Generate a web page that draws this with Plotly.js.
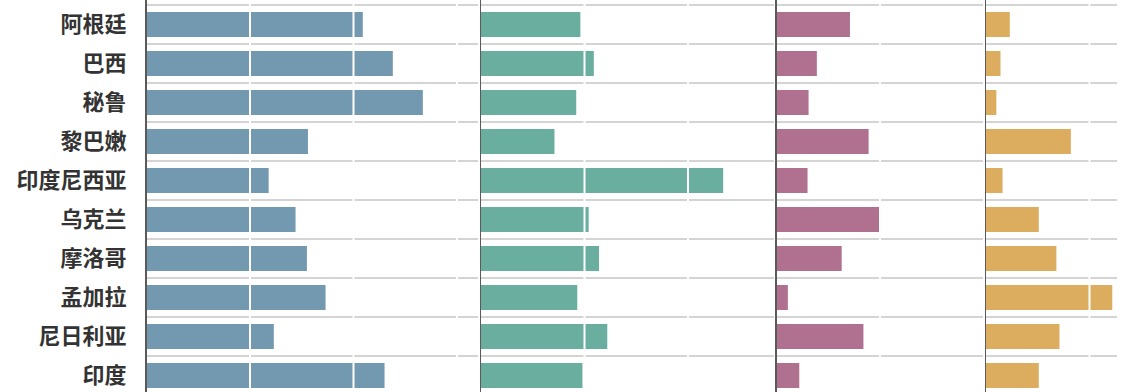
<!DOCTYPE html>
<html>
<head>
<meta charset="utf-8">
<script src="https://cdn.plot.ly/plotly-3.0.1.min.js"></script>
<style>html,body{margin:0;padding:0;background:#fff;}#chart{width:1132px;height:392px;}</style>
</head>
<body>
<div id="chart"></div>
<script>
const countries = ["阿根廷","巴西","秘鲁","黎巴嫩","印度尼西亚","乌克兰","摩洛哥","孟加拉","尼日利亚","印度"];
const series1 = [20.9, 23.8, 26.7, 15.6, 11.8, 14.4, 15.5, 17.3, 12.3, 23.0];
const series2 = [9.6, 10.9, 9.2, 7.1, 23.4, 10.4, 11.4, 9.3, 12.2, 9.8];
const series3 = [7.1, 3.9, 3.1, 8.9, 3.0, 10.1, 6.3, 1.1, 8.4, 2.2];
const series4 = [2.3, 1.4, 1.0, 8.2, 1.6, 5.1, 6.8, 12.2, 7.1, 5.1];
const gridValues = [10, 20, 30];

const allSeries = [series1, series2, series3, series4];
const colors = ["#7399b0", "#69ae9e", "#b07191", "#dcad5e"];
const W = 1132;
const pxDomains = [[146.5, 478], [481, 774], [776.5, 983], [986, 1117]];
const pxPerUnit = 10.35;

const traces = allSeries.map((s, i) => ({
  type: "bar", orientation: "h",
  x: s, y: countries,
  xaxis: i === 0 ? "x" : "x" + (i + 1),
  yaxis: i === 0 ? "y" : "y" + (i + 1),
  marker: {color: colors[i], line: {width: 0}},
  width: 0.64,
  hoverinfo: "x+y",
  showlegend: false
}));

const rowPx = 39;
const topBoundaryPx = 5;
const yTop = -0.5 - topBoundaryPx / rowPx;
const yBottom = yTop + 392 / rowPx;

const layout = {
  width: W, height: 392,
  margin: {l: 0, r: 0, t: 0, b: 0},
  paper_bgcolor: "#ffffff", plot_bgcolor: "#ffffff",
  bargap: 0.36,
  shapes: []
};

pxDomains.forEach((d, i) => {
  const xk = i === 0 ? "xaxis" : "xaxis" + (i + 1);
  const yk = i === 0 ? "yaxis" : "yaxis" + (i + 1);
  const xr = i === 0 ? "x" : "x" + (i + 1);
  const yr = i === 0 ? "y" : "y" + (i + 1);
  layout[xk] = {
    domain: [d[0] / W, d[1] / W],
    range: [0, (d[1] - d[0]) / pxPerUnit],
    anchor: yr,
    showgrid: false, zeroline: false, showticklabels: false, ticks: "",
    showline: false, fixedrange: true
  };
  layout[yk] = {
    domain: [0, 1],
    anchor: xr,
    type: "category",
    categoryorder: "array", categoryarray: countries,
    range: [yBottom, yTop],
    tickson: "boundaries",
    showgrid: true, gridcolor: "#d4d4d4", gridwidth: 1.5,
    showline: true, linecolor: "#5a5a5a", linewidth: 1.5,
    ticks: "", zeroline: false,
    showticklabels: i === 0,
    ticklabelstandoff: 14,
    tickfont: {family: "Noto Sans CJK SC, sans-serif", size: 22, color: "#333333", weight: 700},
    automargin: false, fixedrange: true
  };
  gridValues.forEach(g => {
    if (g < (d[1] - d[0]) / pxPerUnit) {
      layout.shapes.push({
        type: "line", layer: "above",
        xref: xr, yref: "paper",
        x0: g, x1: g, y0: 0, y1: 1,
        line: {color: "#ffffff", width: 2}
      });
    }
  });
});

Plotly.newPlot("chart", traces, layout, {displayModeBar: false, staticPlot: true});
</script>
</body>
</html>
